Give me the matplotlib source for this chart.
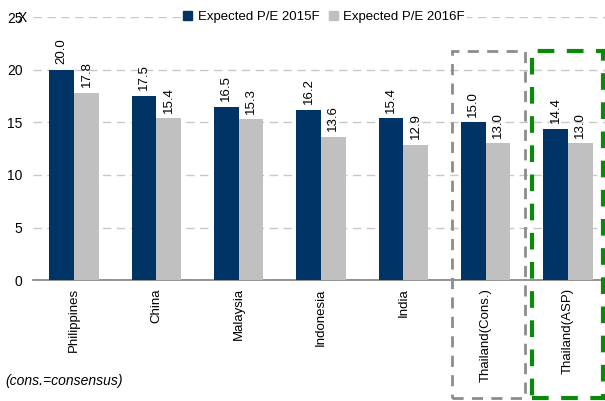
import matplotlib
matplotlib.use("Agg")
import matplotlib.pyplot as plt
import numpy as np
from matplotlib.patches import Rectangle, Patch

plt.rcParams['font.family'] = ['Liberation Sans', 'DejaVu Sans']

categories = ["Philippines", "China", "Malaysia", "Indonesia", "India", "Thailand(Cons.)", "Thailand(ASP)"]
pe_2015 = [20.0, 17.5, 16.5, 16.2, 15.4, 15.0, 14.4]
pe_2016 = [17.8, 15.4, 15.3, 13.6, 12.9, 13.0, 13.0]
series_names = ["Expected P/E 2015F", "Expected P/E 2016F"]
yticks = [0, 5, 10, 15, 20, 25]

c1 = "#003366"
c2 = "#C0C0C0"

fig = plt.figure(figsize=(6.05, 4.01), dpi=100)
ax = fig.add_axes([33/605, 121/401, 576/605, (280-17.5)/401])

x = np.arange(len(categories))
w = 0.3
b1 = ax.bar(x - w/2, pe_2015, w, color=c1, zorder=3)
b2 = ax.bar(x + w/2, pe_2016, w, color=c2, zorder=3)

for rects, vals in [(b1, pe_2015), (b2, pe_2016)]:
    for r, v in zip(rects, vals):
        ax.text(r.get_x() + r.get_width()/2, v + 0.55, f"{v:.1f}", rotation=90,
                ha="center", va="bottom", fontsize=9.5, color="black", zorder=4)

ax.set_xlim(-0.5, len(categories) - 0.5)
ax.set_ylim(0, 25)
ax.set_yticks(yticks)
ax.set_yticklabels([str(t) for t in yticks], fontsize=10)
ax.set_xticks(x)
ax.set_xticklabels(categories, rotation=90, fontsize=9.5, va="top", ha="center")
ax.tick_params(axis="both", length=0, pad=6)
ax.tick_params(axis="y", pad=7.5)
ax.grid(axis="y", color="#C8C8C8", linestyle=(0, (6, 4)), linewidth=1, zorder=0)
for s in ["top", "right", "left"]:
    ax.spines[s].set_visible(False)
ax.spines["bottom"].set_color("#808080")
ax.spines["bottom"].set_linewidth(1.2)

fig.text(18/605, 1 - 17.5/401, "X", fontsize=10, ha="left", va="center")

handles = [Patch(facecolor=c1, edgecolor=c1), Patch(facecolor=c2, edgecolor=c2)]
leg = fig.legend(handles, series_names, loc="center", bbox_to_anchor=(324/605, 1 - 17/401),
                 ncol=2, frameon=True, fontsize=9.5, handlelength=0.7, handleheight=0.7,
                 handletextpad=0.4, columnspacing=0.7, borderpad=0.2)
leg.get_frame().set_facecolor("white")
leg.get_frame().set_edgecolor("none")
leg.get_frame().set_alpha(1)

# Highlight boxes (figure pixel coordinates)
def fig_rect(x0, y0, x1, y1, color, lw, dash):
    r = Rectangle((x0/605, 1 - y1/401), (x1 - x0)/605, (y1 - y0)/401,
                  transform=fig.transFigure, fill=False, edgecolor=color,
                  linewidth=lw, linestyle=dash, clip_on=False, zorder=5)
    fig.add_artist(r)

fig_rect(452, 51, 525, 398, "#8C8C8C", 2, (0, (4, 3)))
fig_rect(532, 51, 603, 398, "#0A8A0A", 3, (0, (4, 3)))

fig.text(5/605, 1 - 381/401, "(cons.=consensus)", fontsize=10, style="italic",
         ha="left", va="center")

fig.savefig("out.png", dpi=100)
